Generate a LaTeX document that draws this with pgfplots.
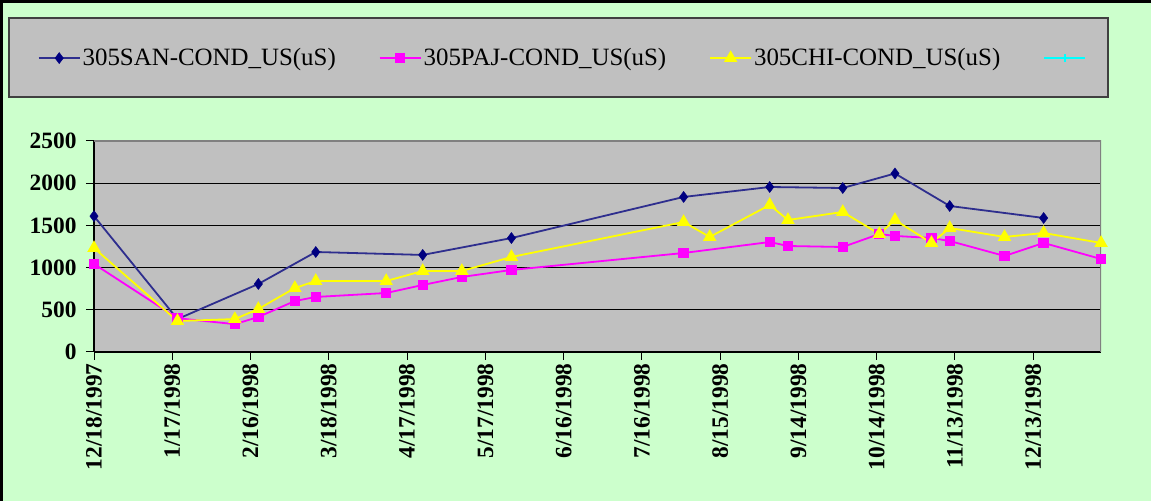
\documentclass[border=0pt]{standalone}
\usepackage{fontspec}
\setmainfont{Liberation Serif}
\usepackage{pgfplots}
\pgfplotsset{compat=1.18}
\definecolor{bg}{HTML}{CCFFCC}
\definecolor{pa}{HTML}{C0C0C0}
\definecolor{navym}{HTML}{000080}
\definecolor{navyl}{HTML}{2E2E8E}
\definecolor{mag}{HTML}{FF00FF}
\definecolor{yel}{HTML}{FFFF00}
\definecolor{cya}{HTML}{00FFFF}
\begin{document}
\begin{tikzpicture}
\fill[bg] (0bp,0bp) rectangle (1151bp,501bp);
\useasboundingbox (0bp,0bp) rectangle (1151bp,501bp);
\draw[line width=3bp] (1.5bp,0bp) -- (1.5bp,499.5bp) -- (1151bp,499.5bp);
\filldraw[fill=pa, draw=black!75, line width=2bp] (9bp,404bp) rectangle (1108bp,483bp);
\begin{axis}[
  at={(94bp,149bp)}, anchor=origin,
  scale only axis, width=1007bp, height=211bp,
  xmin=0, xmax=386, ymin=0, ymax=2500,
  axis background/.style={fill=pa},
  axis x line*=bottom, axis y line*=left,
  axis line style={black, line width=1.5bp},
  ytick={0,500,...,2500},
  xtick={0,30,...,360},
  xticklabels={12/18/1997,1/17/1998,2/16/1998,3/18/1998,4/17/1998,5/17/1998,6/16/1998,7/16/1998,8/15/1998,9/14/1998,10/14/1998,11/13/1998,12/13/1998},
  xticklabel style={rotate=90, anchor=east, font=\fontsize{23.5}{23.5}\selectfont\bfseries},
  yticklabel style={font=\fontsize{23.5}{23.5}\selectfont\bfseries, xshift=-6bp},
  ymajorgrids, grid style={black, line width=1.2bp},
  tick align=outside, major tick length=8bp,
  tick style={black, line width=1bp},
  /pgf/number format/assume math mode=true,
  /pgf/number format/set thousands separator={},
  legend columns=4,
  legend style={draw=none, fill=none, at={(axis description cs:-0.056,1.393)}, anchor=west,
    font=\fontsize{25}{25}\selectfont, inner sep=0pt,
    /tikz/every even column/.append style={column sep=41bp}},
  legend image code/.code={\draw[mark repeat=2,mark phase=2,#1] plot coordinates {(0bp,0bp) (20.5bp,0bp) (41bp,0bp)};},
]
\addplot[color=navyl, line width=1.8bp, mark=diamond*, mark size=5.5bp, mark options={fill=navym, draw=navym, line width=0.5bp}] coordinates {
(0,1610) (32,390) (63,806) (85,1185) (126,1150) (160,1350) (226,1837) (259,1955) (287,1943) (307,2115) (328,1730) (364,1588)};
\addlegendentry{305SAN-COND\_US(uS)}
\addplot[color=mag, line width=1.8bp, mark=square*, mark size=4.3bp, mark options={fill=mag, draw=mag}] coordinates {
(0,1043) (32,400) (54,330) (63,415) (77,604) (85,652) (112,699) (126,794) (141,889) (160,972) (226,1173) (259,1303) (266,1256) (287,1244) (301,1398) (307,1375) (321,1351) (328,1315) (349,1138) (364,1292) (386,1102)};
\addlegendentry{305PAJ-COND\_US(uS)}
\addplot[color=yel, line width=1.8bp, mark=triangle*, mark size=6bp, mark options={fill=yel, draw=yel}] coordinates {
(0,1232) (32,367) (54,390) (63,510) (77,758) (85,841) (112,841) (126,960) (141,960) (160,1126) (226,1540) (236,1363) (259,1742) (266,1564) (287,1659) (301,1398) (307,1564) (321,1292) (328,1469) (349,1363) (364,1410) (386,1292)};
\addlegendentry{305CHI-COND\_US(uS)}
\addlegendimage{color=cya, line width=1.8bp, mark=+, mark size=4bp}
\addlegendentry{}
\draw[black!50, line width=2bp] (rel axis cs:0,1) -- (rel axis cs:1,1) -- (rel axis cs:1,0);
\end{axis}
\end{tikzpicture}
\end{document}
